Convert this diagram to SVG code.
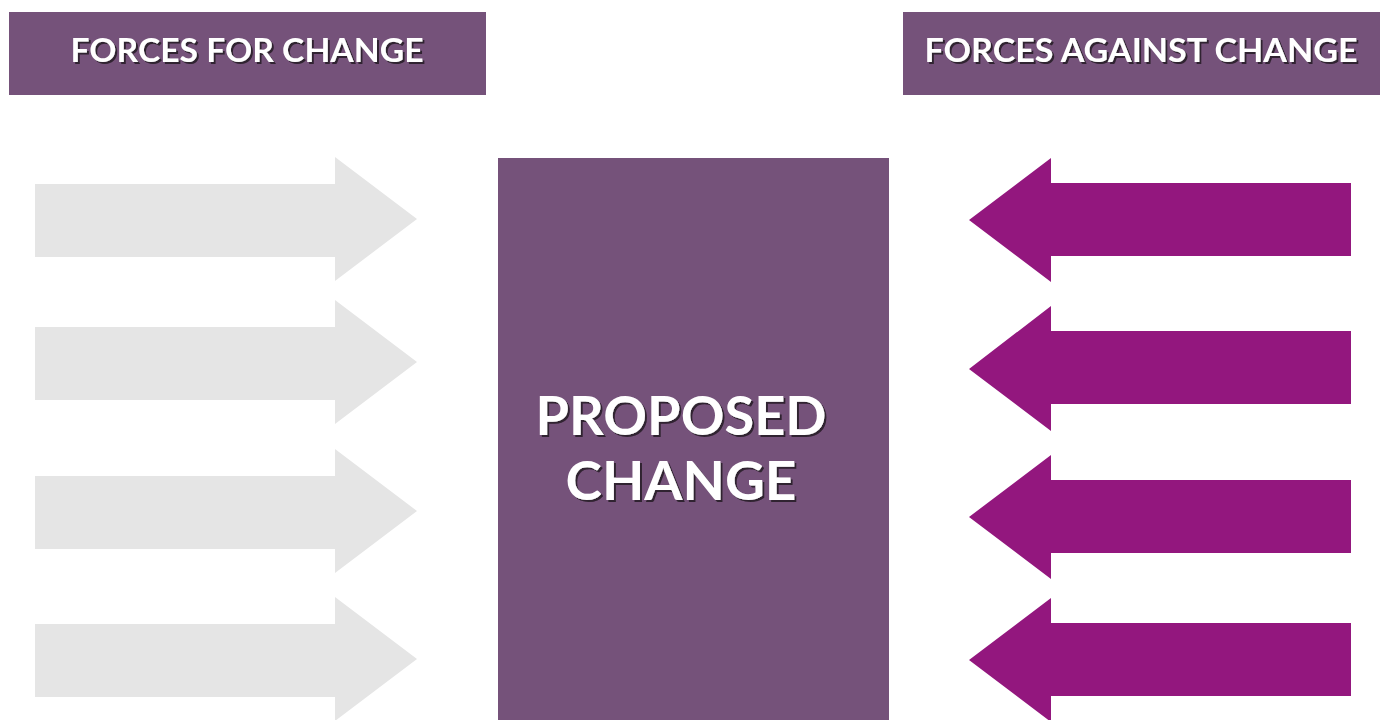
<svg xmlns="http://www.w3.org/2000/svg" width="1386" height="720" viewBox="0 0 1386 720">
<defs>
<style>
.hdr{fill:#75527a}
.for{fill:#e5e5e5}
.against{fill:#93177e}
.t{font-family:Lato,"Open Sans","Liberation Sans",sans-serif;font-weight:700;fill:#ffffff;text-anchor:middle;filter:url(#sh)}
</style>
<filter id="sh" x="-10%" y="-30%" width="120%" height="160%">
<feDropShadow dx="2" dy="2" stdDeviation="0.4" flood-color="#2a1a2c" flood-opacity="0.9"/>
</filter>
</defs>
<rect width="1386" height="720" fill="#ffffff"/>
<g id="header-for">
<rect class="hdr" x="9" y="12" width="477" height="83"/>
<text class="t" x="247" y="62" font-size="33" textLength="353" lengthAdjust="spacingAndGlyphs">FORCES FOR CHANGE</text>
</g>
<g id="header-against">
<rect class="hdr" x="903" y="12" width="477" height="83"/>
<text class="t" x="1141" y="62" font-size="33" textLength="433" lengthAdjust="spacingAndGlyphs">FORCES AGAINST CHANGE</text>
</g>
<g id="proposed-change">
<rect class="hdr" x="498" y="158" width="391" height="570"/>
<text class="t" x="681" y="435" font-size="54" textLength="291" lengthAdjust="spacingAndGlyphs">PROPOSED</text>
<text class="t" x="681" y="500" font-size="54" textLength="231" lengthAdjust="spacingAndGlyphs">CHANGE</text>
</g>
<g id="connectors">
<g id="forces-for">
<polygon class="for" points="35,184 335,184 335,157 417,219 335,281 335,257 35,257"/>
<polygon class="for" points="35,327 335,327 335,300 417,362 335,424 335,400 35,400"/>
<polygon class="for" points="35,476 335,476 335,449 417,511 335,573 335,549 35,549"/>
<polygon class="for" points="35,624 335,624 335,597 417,659 335,721 335,697 35,697"/>
</g>
<g id="forces-against">
<polygon class="against" points="1351,183 1051,183 1051,158 969,220 1051,282 1051,256 1351,256"/>
<polygon class="against" points="1351,331 1051,331 1051,306 969,369 1051,431 1051,404 1351,404"/>
<polygon class="against" points="1351,480 1051,480 1051,455 969,517 1051,579 1051,553 1351,553"/>
<polygon class="against" points="1351,623 1051,623 1051,598 969,660 1051,722 1051,696 1351,696"/>
</g>
</g>
</svg>
